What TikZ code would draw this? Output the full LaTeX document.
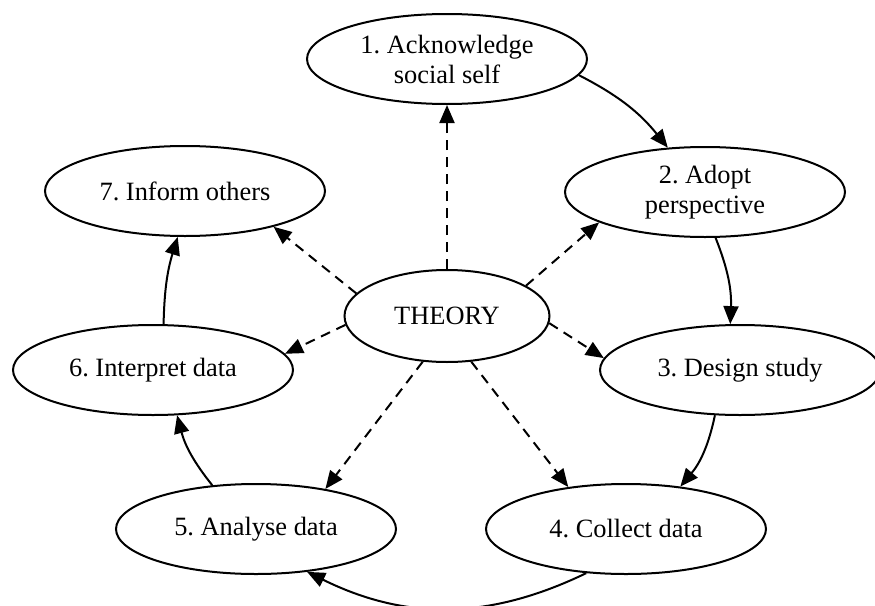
\documentclass[tikz,border=0pt]{standalone}
\usepackage{fontspec}
\setmainfont{Liberation Serif}
\usetikzlibrary{arrows.meta,shapes.geometric}
\frenchspacing
\tikzset{
  stage/.style={ellipse, draw=black, line width=2pt, fill=white, inner sep=0pt,
    minimum width=280pt, minimum height=90pt, align=center,
    font=\fontsize{26.4}{30}\selectfont},
  core/.style={stage, minimum width=205pt, minimum height=92pt},
  cyclearr/.style={-{Triangle[length=18pt,width=15pt]}, line width=2pt},
  theoryarr/.style={cyclearr, dash pattern=on 10pt off 7pt},
}
\begin{document}
\begin{tikzpicture}[x=1pt, y=-1pt]
\useasboundingbox (0,0) rectangle (875,605);

% ---------------- research stages round the cycle ----------------
\node[stage] (s1) at (447,59)  {1. Acknowledge\\social self};
\node[stage] (s2) at (705,192) {2. Adopt\\perspective};
\node[stage] (s3) at (740,370) {3. Design study};
\node[stage] (s4) at (626,529) {4. Collect data};
\node[stage] (s5) at (256,529) {5. Analyse data};
\node[stage] (s6) at (153,370) {6. Interpret data};
\node[stage] (s7) at (185,191) {7. Inform others};

% theory in the middle
\node[core] (theory) at (447,316) {THEORY};

% ---------------- cycle (solid) ----------------
\draw[cyclearr] (s1.-7)   to[bend left=12] (s2.130);
\draw[cyclearr] (s2.-77)  to[bend left=12] (s3.102);
\draw[cyclearr] (s3.-119) to[bend left=14] (s4.38);
\draw[cyclearr] (s4.-132) to[bend left=26] (s5.-40);
\draw[cyclearr] (s5.135)  to[bend left=12] (s6.-62);
\draw[cyclearr] (s6.77)   to[bend left=8]  (s7.-99);

% ---------------- theory informs each stage (dashed) ----------------
\draw[theoryarr] (theory.90)    -- (s1.-90);
\draw[theoryarr] (theory.21)    -- (s2.-164);
\draw[theoryarr] (theory.-4)    -- (s3.175);
\draw[theoryarr] (theory.-62)   -- (s4.144);
\draw[theoryarr] (theory.-118)  -- (s5.30);
\draw[theoryarr] (theory.-175)  -- (s6.7);
\draw[theoryarr] (theory.166)   -- (s7.-22);

\end{tikzpicture}
\end{document}
